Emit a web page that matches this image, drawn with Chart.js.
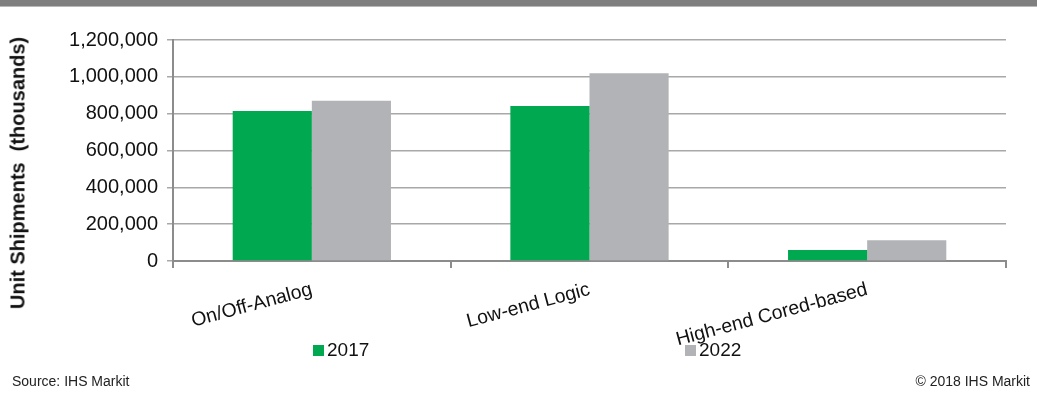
<!DOCTYPE html>
<html>
<head>
<meta charset="utf-8">
<script src="https://cdn.jsdelivr.net/npm/chart.js@4/dist/chart.umd.min.js"></script>
<style>
    body { margin: 0; background: #fff; font-family: "Liberation Sans", Arial, sans-serif; }
    .wrap { position: relative; width: 1037px; height: 401px; overflow: hidden; }
    .topbar { position: absolute; left: 0; top: 0; width: 1037px; height: 6px; background: #7f7f7f; border-bottom: 1px solid #b8b8b8; }
    canvas { position: absolute; left: 0; top: 0; }
    .ytitle { position: absolute; left: 18px; top: 173px; transform: translate(-50%, -50%) rotate(-90deg); white-space: pre; font-size: 20px; font-weight: bold; color: #111; }
    .legend { position: absolute; top: 339px; font-size: 19px; color: #111; display: flex; align-items: center; }
    .legend span.box { display: inline-block; width: 11px; height: 11px; margin-right: 3px; }
    .foot { position: absolute; top: 373px; font-size: 14px; color: #222; }
</style>
</head>
<body>
<div class="wrap">
    <div class="topbar"></div>
    <canvas id="shipmentsChart" width="1037" height="401"></canvas>
    <div class="ytitle">Unit Shipments  (thousands)</div>
    <div class="legend" style="left:313px"><span class="box" style="background:#00a84f"></span>2017</div>
    <div class="legend" style="left:685px"><span class="box" style="background:#b2b3b6"></span>2022</div>
    <div class="foot" style="left:12px">Source: IHS Markit</div>
    <div class="foot" style="right:7px">© 2018 IHS Markit</div>
</div>
<script>
// values (thousands of units)
const categories = ['On/Off-Analog', 'Low-end Logic', 'High-end Cored-based'];
const shipments2017 = [815000, 842000, 60000];
const shipments2022 = [870000, 1020000, 112000];
const yTicks = [0, 200000, 400000, 600000, 800000, 1000000, 1200000];

document.addEventListener('DOMContentLoaded', function() {
    const ctx = document.getElementById('shipmentsChart').getContext('2d');
    const chart = new Chart(ctx, {
        type: 'bar',
        data: {
            labels: categories,
            datasets: [{
                label: '2017',
                data: shipments2017,
                backgroundColor: '#00a84f',
                borderWidth: 0,
                categoryPercentage: 0.57,
                barPercentage: 1.0
            }, {
                label: '2022',
                data: shipments2022,
                backgroundColor: '#b2b3b6',
                borderWidth: 0,
                categoryPercentage: 0.57,
                barPercentage: 1.0
            }]
        },
        options: {
            responsive: false,
            animation: false,
            layout: {
                padding: { top: 40, right: 31, bottom: 56, left: 0 }
            },
            scales: {
                x: {
                    offset: true,
                    grid: {
                        offset: true,
                        drawOnChartArea: false,
                        drawTicks: true,
                        tickLength: 7,
                        color: '#8c8c8c',
                        lineWidth: 2
                    },
                    border: { color: '#8c8c8c', width: 2 },
                    ticks: {
                        minRotation: 15,
                        maxRotation: 15,
                        padding: 10,
                        color: '#111',
                        font: { family: '"Liberation Sans", Arial, sans-serif', size: 19.5 }
                    },
                    afterFit: function(scale) { scale.height = 84; }
                },
                y: {
                    min: 0,
                    max: 1200000,
                    afterBuildTicks: function(scale) {
                        scale.ticks = yTicks.map(v => ({ value: v }));
                    },
                    grid: {
                        color: '#a8a8a8',
                        lineWidth: 1.5,
                        tickLength: 6,
                        drawTicks: true
                    },
                    border: { color: '#8c8c8c', width: 2 },
                    ticks: {
                        padding: 9,
                        color: '#111',
                        font: { family: '"Liberation Sans", Arial, sans-serif', size: 20 },
                        callback: function(value) { return value.toLocaleString('en-US'); }
                    },
                    afterFit: function(scale) { scale.width = 173; }
                }
            },
            plugins: {
                legend: { display: false },
                tooltip: { enabled: false }
            }
        }
    });
});
</script>
</body>
</html>
